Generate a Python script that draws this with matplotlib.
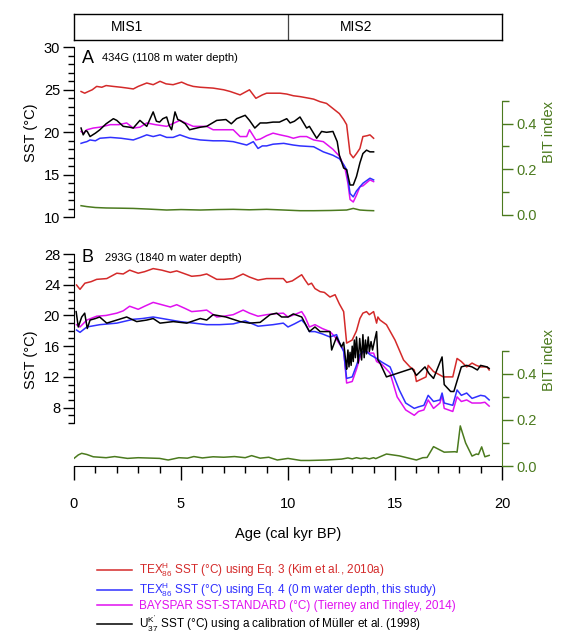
import matplotlib
matplotlib.use("Agg")
import matplotlib.pyplot as plt
from matplotlib.ticker import FixedLocator

plt.rcParams['font.family'] = ['Liberation Sans', 'DejaVu Sans']
plt.rcParams['mathtext.fontset'] = 'custom'
plt.rcParams['mathtext.rm'] = 'Liberation Sans'
plt.rcParams['mathtext.it'] = 'Liberation Sans'

RED = '#d42a2a'
BLUE = '#3030ff'
MAG = '#e010f0'
BLK = 'black'
GRN = '#4b7a1e'

# ---- panel A: 434G ----
a_red_age = [0.33, 0.5, 0.67, 0.85, 1.06, 1.3, 1.5, 1.83, 2.2, 2.5, 2.77, 3.0, 3.4, 3.7, 4.02, 4.3, 4.63, 5.03, 5.3, 5.57, 5.9, 6.5, 7.0, 7.3, 7.76, 8.2, 8.5, 8.8, 9.0, 9.3, 9.63, 9.94, 10.25, 10.56, 11.0, 11.2, 11.5, 11.8, 12.1, 12.4, 12.6, 12.74, 12.9, 13.05, 13.2, 13.36, 13.5, 13.7, 13.83, 14.0]
a_red = [24.8, 24.6, 24.8, 25.0, 25.4, 25.3, 25.5, 25.4, 25.3, 25.2, 25.1, 25.4, 25.8, 25.6, 26.0, 25.7, 25.6, 25.9, 25.6, 25.4, 25.3, 25.2, 25.0, 24.8, 24.4, 25.0, 24.0, 24.4, 24.6, 24.6, 24.6, 24.5, 24.3, 24.2, 24.0, 23.9, 23.6, 23.4, 22.8, 22.2, 21.5, 20.9, 17.5, 17.0, 17.5, 18.1, 19.5, 19.6, 19.7, 19.3]

a_blk_age = [0.33, 0.43, 0.55, 0.62, 0.75, 1.0, 1.21, 1.5, 1.84, 2.0, 2.3, 2.6, 2.77, 3.08, 3.4, 3.7, 3.85, 4.0, 4.15, 4.33, 4.45, 4.56, 4.72, 4.85, 4.95, 5.2, 5.4, 5.9, 6.2, 6.67, 7.1, 7.35, 7.6, 8.0, 8.2, 8.45, 8.7, 9.0, 9.3, 9.6, 9.94, 10.1, 10.3, 10.56, 10.87, 11.0, 11.34, 11.57, 11.8, 12.1, 12.3, 12.4, 12.6, 12.74, 12.9, 13.05, 13.2, 13.36, 13.5, 13.67, 13.83, 14.0]
a_blk = [20.5, 19.7, 20.2, 20.1, 19.5, 19.9, 20.3, 21.0, 21.6, 21.4, 20.7, 20.6, 20.5, 21.4, 20.7, 22.4, 21.3, 21.2, 21.6, 21.8, 20.8, 20.3, 22.4, 21.5, 21.4, 21.0, 20.3, 20.6, 20.7, 21.4, 21.5, 21.0, 21.6, 22.0, 21.4, 20.5, 21.1, 21.1, 21.2, 21.2, 21.6, 21.1, 21.3, 21.8, 20.5, 20.7, 19.3, 20.1, 20.0, 20.1, 18.9, 17.3, 15.8, 15.6, 13.8, 13.8, 14.8, 16.4, 17.5, 17.9, 17.7, 17.7]

a_mag_age = [0.33, 0.45, 0.6, 0.9, 1.2, 1.7, 2.1, 2.46, 2.77, 3.08, 3.4, 3.8, 4.33, 4.95, 5.3, 5.57, 6.2, 6.5, 7.1, 7.44, 7.76, 8.07, 8.2, 8.5, 8.7, 9.0, 9.3, 9.63, 10.0, 10.25, 10.56, 10.87, 11.2, 11.65, 12.1, 12.4, 12.66, 12.8, 12.9, 13.05, 13.2, 13.36, 13.5, 13.83, 14.0]
a_mag = [20.1, 19.9, 20.3, 20.5, 20.6, 20.9, 20.9, 21.1, 20.5, 20.6, 21.1, 20.9, 20.7, 21.4, 21.0, 20.7, 20.7, 20.3, 20.3, 20.3, 19.5, 19.5, 20.3, 19.1, 19.2, 19.6, 19.9, 19.7, 19.5, 19.3, 19.5, 19.5, 19.1, 18.9, 18.0, 17.2, 15.8, 14.0, 12.1, 11.8, 12.6, 13.6, 13.7, 14.4, 14.2]

a_blu_age = [0.33, 0.45, 0.6, 0.75, 1.0, 1.21, 1.7, 2.2, 2.77, 3.1, 3.4, 3.7, 4.02, 4.33, 4.63, 4.95, 5.4, 5.9, 6.5, 7.0, 7.44, 8.07, 8.38, 8.6, 8.8, 9.0, 9.3, 9.8, 10.25, 10.56, 11.2, 11.65, 12.1, 12.4, 12.6, 12.74, 12.9, 13.05, 13.2, 13.5, 13.83, 14.0]
a_blu = [18.7, 18.8, 18.9, 19.1, 19.0, 19.3, 19.4, 19.3, 19.1, 19.4, 19.7, 19.5, 19.7, 19.4, 19.4, 19.7, 19.3, 19.1, 19.0, 19.0, 18.9, 18.5, 18.9, 18.1, 18.4, 18.4, 18.6, 18.7, 18.5, 18.4, 18.3, 17.7, 17.3, 16.9, 16.2, 15.6, 12.8, 12.4, 13.1, 14.0, 14.6, 14.4]

a_bit_age = [0.33, 0.6, 1.0, 1.5, 2.2, 2.77, 3.5, 4.33, 5.0, 5.9, 6.7, 7.44, 8.2, 9.0, 9.8, 10.56, 11.2, 12.0, 12.74, 13.05, 13.36, 13.7, 14.0]
a_bit = [0.039, 0.035, 0.031, 0.029, 0.028, 0.027, 0.024, 0.020, 0.022, 0.020, 0.022, 0.023, 0.021, 0.023, 0.020, 0.017, 0.017, 0.018, 0.020, 0.027, 0.020, 0.018, 0.017]

# ---- panel B: 293G ----
b_red_age = [0.12, 0.28, 0.51, 0.8, 1.06, 1.53, 2.0, 2.3, 2.6, 3.0, 3.3, 3.7, 4.1, 4.5, 4.8, 5.2, 5.5, 5.9, 6.2, 6.67, 7.0, 7.44, 7.9, 8.2, 8.6, 9.0, 9.3, 9.78, 9.94, 10.2, 10.64, 10.8, 10.95, 11.1, 11.26, 11.5, 11.7, 11.96, 12.2, 12.4, 12.6, 12.74, 13.0, 13.2, 13.36, 13.5, 13.67, 13.8, 14.0, 14.14, 14.2, 14.3, 14.6, 15.0, 15.4, 15.7, 15.9, 16.0, 16.3, 16.45, 16.55, 16.8, 17.26, 17.7, 17.9, 18.1, 18.35, 18.6, 18.8, 19.0, 19.3, 19.4]
b_red = [23.96, 23.4, 24.2, 24.4, 24.7, 24.8, 25.5, 25.4, 25.9, 25.5, 25.7, 26.1, 25.9, 25.6, 25.8, 25.4, 25.1, 25.2, 25.4, 24.7, 24.7, 24.8, 25.4, 25.0, 24.6, 24.8, 24.8, 24.8, 24.3, 24.5, 25.3, 24.6, 24.0, 24.2, 23.5, 23.1, 23.0, 22.4, 22.7, 21.5, 20.5, 16.4, 16.8, 18.0, 19.6, 20.3, 20.5, 20.1, 20.5, 19.0, 19.8, 19.4, 18.8, 16.8, 14.2, 13.3, 12.9, 11.4, 11.8, 12.0, 13.5, 12.7, 12.0, 12.0, 14.4, 14.0, 13.3, 13.8, 13.5, 13.3, 13.3, 12.9]

b_blk_age = [0.1, 0.2, 0.36, 0.5, 0.62, 0.75, 1.0, 1.2, 1.53, 2.0, 2.46, 2.93, 3.4, 3.7, 4.02, 4.64, 5.27, 5.9, 6.2, 6.5, 7.1, 7.76, 8.2, 8.7, 9.16, 9.47, 9.7, 10.0, 10.25, 10.64, 11.0, 11.26, 11.5, 11.96, 12.04, 12.27, 12.5, 12.6, 12.7, 12.74, 12.8, 12.85, 12.9, 12.95, 13.0, 13.05, 13.1, 13.15, 13.2, 13.28, 13.35, 13.44, 13.5, 13.56, 13.62, 13.67, 13.75, 13.8, 13.88, 13.95, 14.05, 14.14, 14.2, 14.3, 14.6, 15.8, 16.0, 16.4, 16.6, 16.8, 17.2, 17.3, 17.6, 17.75, 18.1, 18.35, 18.6, 18.85, 19.0, 19.3, 19.4]
b_blk = [20.5, 18.5, 19.8, 20.3, 18.3, 19.4, 19.6, 19.8, 19.0, 19.4, 19.8, 19.2, 19.4, 19.6, 19.0, 19.2, 19.0, 19.6, 19.4, 20.1, 19.8, 19.2, 19.0, 19.1, 20.1, 20.3, 19.8, 19.8, 20.2, 19.8, 17.9, 18.5, 17.9, 17.9, 15.5, 17.2, 15.9, 16.5, 14.0, 13.0, 15.5, 13.3, 15.2, 13.5, 16.0, 14.0, 16.8, 14.5, 17.2, 13.8, 17.0, 14.2, 17.5, 14.5, 16.8, 15.0, 17.2, 15.3, 16.6, 15.5, 16.8, 17.9, 14.2, 13.8, 12.0, 13.1, 12.2, 13.3, 12.4, 11.8, 14.6, 11.0, 10.1, 10.1, 13.3, 13.5, 13.3, 12.9, 13.5, 13.3, 13.1]

b_mag_age = [0.12, 0.28, 0.6, 1.06, 1.5, 2.0, 2.3, 2.6, 3.0, 3.3, 3.7, 4.1, 4.5, 4.8, 5.2, 5.5, 5.9, 6.2, 6.67, 7.0, 7.44, 7.9, 8.2, 8.6, 9.0, 9.3, 9.78, 10.0, 10.3, 10.64, 10.8, 11.0, 11.26, 11.6, 11.96, 12.2, 12.4, 12.6, 12.74, 13.0, 13.2, 13.36, 13.5, 13.67, 13.83, 14.0, 14.14, 14.4, 14.77, 15.1, 15.5, 15.9, 16.1, 16.35, 16.55, 16.8, 17.1, 17.2, 17.3, 17.7, 17.9, 18.1, 18.35, 18.6, 19.0, 19.2, 19.4]
b_mag = [18.8, 18.5, 19.4, 19.9, 20.0, 20.3, 20.6, 21.2, 20.8, 21.2, 21.7, 21.4, 21.1, 21.4, 20.9, 20.5, 20.6, 20.7, 19.8, 19.9, 20.1, 20.7, 20.3, 19.9, 20.1, 20.2, 20.3, 19.8, 20.1, 20.5, 19.8, 18.5, 18.8, 18.3, 17.9, 17.2, 16.3, 15.5, 11.2, 11.4, 13.0, 14.5, 15.3, 15.3, 15.1, 15.1, 14.0, 13.6, 12.5, 9.4, 7.7, 7.0, 7.5, 7.7, 9.0, 7.9, 8.6, 9.6, 7.9, 7.5, 9.4, 8.8, 9.0, 8.6, 8.6, 8.7, 8.2]

b_blu_age = [0.12, 0.28, 0.6, 1.21, 2.0, 2.77, 3.2, 3.7, 4.33, 4.95, 5.6, 6.2, 6.8, 7.44, 8.0, 8.6, 9.3, 9.78, 10.0, 10.3, 10.64, 10.8, 11.0, 11.26, 11.6, 11.96, 12.27, 12.4, 12.6, 12.74, 13.0, 13.2, 13.36, 13.5, 13.67, 13.83, 14.14, 14.4, 14.77, 15.2, 15.5, 15.9, 16.1, 16.35, 16.55, 16.8, 17.1, 17.2, 17.3, 17.7, 17.9, 18.1, 18.35, 18.6, 19.0, 19.2, 19.4]
b_blu = [18.1, 17.8, 18.5, 18.8, 19.0, 19.5, 19.6, 19.8, 19.5, 19.2, 19.0, 18.8, 18.8, 18.9, 19.3, 18.6, 18.8, 19.0, 18.5, 18.9, 19.4, 18.9, 17.9, 17.9, 17.6, 17.2, 17.5, 16.5, 15.3, 11.8, 12.0, 13.5, 14.9, 15.3, 15.3, 14.9, 14.4, 13.9, 13.3, 10.3, 8.6, 7.9, 8.1, 8.3, 9.6, 8.8, 9.0, 9.9, 8.6, 8.3, 10.3, 9.6, 9.9, 9.2, 9.6, 9.5, 9.0]

b_bit_age = [0.0, 0.2, 0.36, 0.6, 0.9, 1.5, 1.9, 2.5, 3.0, 4.0, 4.4, 4.9, 5.3, 5.6, 6.0, 6.5, 7.0, 7.5, 8.0, 8.3, 8.7, 9.1, 9.5, 10.0, 10.6, 11.0, 11.8, 12.5, 12.8, 13.0, 13.2, 13.4, 13.6, 13.8, 14.0, 14.1, 14.6, 15.2, 16.0, 16.3, 16.5, 16.8, 17.3, 17.8, 17.9, 18.05, 18.3, 18.6, 18.8, 18.9, 19.05, 19.2, 19.4]
b_bit = [0.033, 0.048, 0.055, 0.05, 0.040, 0.036, 0.041, 0.033, 0.036, 0.033, 0.026, 0.036, 0.034, 0.041, 0.035, 0.040, 0.038, 0.041, 0.036, 0.045, 0.034, 0.038, 0.026, 0.033, 0.024, 0.024, 0.026, 0.030, 0.035, 0.031, 0.036, 0.032, 0.035, 0.031, 0.036, 0.032, 0.052, 0.044, 0.026, 0.036, 0.037, 0.084, 0.06, 0.062, 0.06, 0.174, 0.10, 0.043, 0.052, 0.05, 0.083, 0.040, 0.046]

labels = [r'TEX$_{\rm 86}^{\rm H}$ SST (°C) using Eq. 3 (Kim et al., 2010a)',
          r'TEX$_{\rm 86}^{\rm H}$ SST (°C) using Eq. 4 (0 m water depth, this study)',
          'BAYSPAR SST-STANDARD (°C) (Tierney and Tingley, 2014)',
          r"U$_{\rm 37}^{\rm K'}$ SST (°C) using a calibration of Müller et al. (1998)"]

W, H = 576, 632
fig = plt.figure(figsize=(W / 100, H / 100), dpi=100)


def rect(x0, y0, x1, y1):
    return [x0 / W, 1 - y1 / H, (x1 - x0) / W, (y1 - y0) / H]


# MIS bar
axm = fig.add_axes(rect(74, 14, 502, 40))
axm.set_xlim(0, 20)
axm.set_ylim(0, 1)
axm.set_xticks([])
axm.set_yticks([])
axm.axvline(10, color='#444444', lw=0.9)
axm.text(2.5, 0.5, 'MIS1', ha='center', va='center', fontsize=10)
axm.text(13.2, 0.5, 'MIS2', ha='center', va='center', fontsize=10)
for s in axm.spines.values():
    s.set_linewidth(1.0)


def style_left(ax, lo, hi):
    ax.spines['top'].set_visible(False)
    ax.spines['right'].set_visible(False)
    ax.spines['left'].set_bounds(lo, hi)
    ax.yaxis.set_minor_locator(FixedLocator(list(range(lo, hi + 1))))
    ax.tick_params(axis='y', which='major', length=8, width=1, labelsize=10.5, pad=2)
    ax.tick_params(axis='y', which='minor', length=4, width=1)


def style_bit(ax2, top):
    ax2.set_ylim(*top)
    for k in ['top', 'left', 'bottom']:
        ax2.spines[k].set_visible(False)
    ax2.spines['right'].set_bounds(0, 0.5)
    ax2.spines['right'].set_color(GRN)
    ax2.set_yticks([0, 0.2, 0.4])
    ax2.set_yticklabels(['0.0', '0.2', '0.4'])
    ax2.yaxis.set_minor_locator(FixedLocator([0.1, 0.3, 0.5]))
    ax2.tick_params(axis='y', which='major', length=8, width=1, colors=GRN, labelsize=10.5, pad=2)
    ax2.tick_params(axis='y', which='minor', length=5, width=1, colors=GRN)
    ax2.set_ylabel('BIT index', color=GRN, fontsize=10.5, labelpad=4)


lw = 1.1

# panel A
axA = fig.add_axes(rect(74, 47.3, 502, 217.3))
axA.set_xlim(0, 20)
axA.set_ylim(10, 30)
axA.spines['bottom'].set_visible(False)
axA.set_xticks([])
style_left(axA, 10, 30)
axA.set_yticks([10, 15, 20, 25, 30])
axA.set_ylabel('SST (°C)', fontsize=10.5, labelpad=4)
axA.plot(a_red_age, a_red, color=RED, lw=lw)
axA.plot(a_mag_age, a_mag, color=MAG, lw=lw)
axA.plot(a_blu_age, a_blu, color=BLUE, lw=lw)
axA.plot(a_blk_age, a_blk, color=BLK, lw=lw)
axA.text(0.35, 28.7, 'A', fontsize=13, va='center')
axA.text(1.3, 28.7, '434G (1108 m water depth)', fontsize=8, va='center')
axA2 = axA.twinx()
axA2.plot(a_bit_age, a_bit, color=GRN, lw=lw)
style_bit(axA2, (-0.012, 0.735))

# panel B
axB = fig.add_axes(rect(74, 254, 502, 466))
axB.set_xlim(0, 20)
axB.set_ylim(0.4, 28)
style_left(axB, 6, 28)
axB.set_yticks([8, 12, 16, 20, 24, 28])
axB.set_ylabel('SST (°C)', fontsize=10.5, labelpad=4)
axB.set_xticks([0, 5, 10, 15, 20])
axB.xaxis.set_minor_locator(FixedLocator(list(range(0, 21))))
axB.tick_params(axis='x', which='major', length=10, width=1, labelsize=10.5, pad=12)
axB.tick_params(axis='x', which='minor', length=5, width=1)
axB.set_xlabel('Age (cal kyr BP)', fontsize=10.5, labelpad=12)
hr, = axB.plot(b_red_age, b_red, color=RED, lw=lw)
hm, = axB.plot(b_mag_age, b_mag, color=MAG, lw=lw)
hb, = axB.plot(b_blu_age, b_blu, color=BLUE, lw=lw)
hk, = axB.plot(b_blk_age, b_blk, color=BLK, lw=lw)
axB.text(0.35, 27.5, 'B', fontsize=13, va='center')
axB.text(1.45, 27.5, '293G (1840 m water depth)', fontsize=8, va='center')
axB2 = axB.twinx()
axB2.plot(b_bit_age, b_bit, color=GRN, lw=lw)
style_bit(axB2, (0, 0.92))

fig.legend([hr, hb, hm, hk], labels, loc='upper left', bbox_to_anchor=(92 / W, 1 - 556 / H),
           frameon=False, fontsize=8.5, labelcolor='linecolor', handlelength=3.0,
           handletextpad=0.6, labelspacing=0.1, borderaxespad=0)

fig.savefig('out.png', dpi=100)
